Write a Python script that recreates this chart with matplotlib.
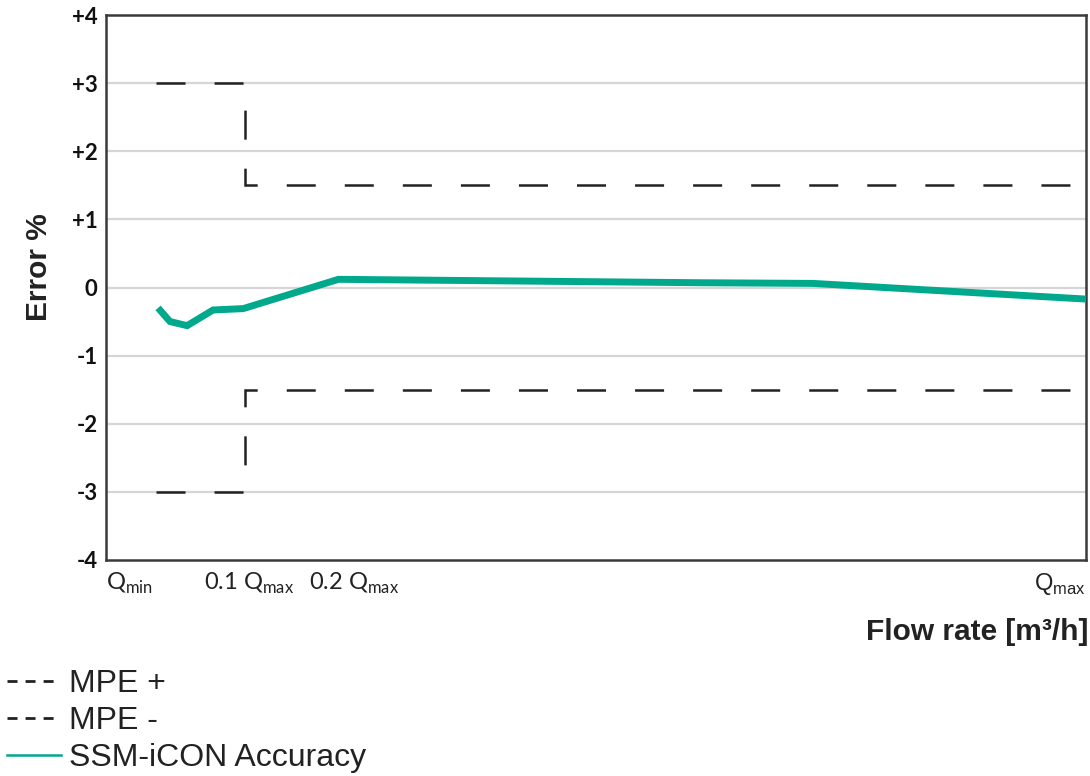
import matplotlib
matplotlib.use("Agg")
import matplotlib.pyplot as plt
from matplotlib.lines import Line2D
import matplotlib.transforms as mtransforms

plt.rcParams['lines.scale_dashes'] = False
plt.rcParams['mathtext.fontset'] = 'custom'
plt.rcParams['mathtext.rm'] = 'Lato'

# ---------------- data ----------------
# x expressed as fraction of Qmax
acc_x = [0.0069, 0.0197, 0.038, 0.0658, 0.098, 0.2, 0.587, 0.708, 1.0]
acc_y = [-0.30, -0.50, -0.56, -0.33, -0.31, 0.12, 0.07, 0.06, -0.17]

mpe_x = [0.0045, 0.1, 0.1, 1.0]
mpe_plus = [3.0, 3.0, 1.5, 1.5]
mpe_minus = [-3.0, -3.0, -1.5, -1.5]

x_tick_pos = [-0.0488, 0.1, 0.2, 1.0]
x_tick_labels = [r'Q$_{\mathregular{min}}$', r'0.1 Q$_{\mathregular{max}}$',
                 r'0.2 Q$_{\mathregular{max}}$', r'Q$_{\mathregular{max}}$']
y_ticks = [-4, -3, -2, -1, 0, 1, 2, 3, 4]
y_tick_labels = ['-4', '-3', '-2', '-1', '0', '+1', '+2', '+3', '+4']

green = '#00A88C'
dark = '#222222'

fig = plt.figure(figsize=(10.9, 7.76), dpi=100)
ax = fig.add_axes([106/1090, 1-560/776, 980/1090, 545/776])

ax.set_xlim(x_tick_pos[0], 1.0)
ax.set_ylim(-4, 4)

# grid
for yv in y_ticks[1:-1]:
    ax.axhline(yv, color='#d6d6d6', lw=1.6, zorder=1)

# MPE lines
dash = (20.9, 20.9)
ax.plot(mpe_x, mpe_plus, color=dark, lw=1.8, dashes=dash,
        dash_joinstyle='miter', dash_capstyle='butt', zorder=2, clip_on=False)
ax.plot(mpe_x, mpe_minus, color=dark, lw=1.8, dashes=dash,
        dash_joinstyle='miter', dash_capstyle='butt', zorder=2, clip_on=False)

# accuracy line
ax.plot(acc_x, acc_y, color=green, lw=5.0, solid_joinstyle='miter',
        solid_capstyle='butt', zorder=3, clip_on=False)

for s in ax.spines.values():
    s.set_color('#3a3a3a')
    s.set_linewidth(1.8)

ax.set_yticks(y_ticks)
ax.set_yticklabels(y_tick_labels, fontfamily='Lato', fontweight='bold', fontsize=16, color='#111111')
ax.tick_params(axis='y', length=0, pad=6)

ax.set_xticks(x_tick_pos)
ax.set_xticklabels(x_tick_labels, fontfamily='Lato', fontsize=17, color='#222222')
ax.tick_params(axis='x', length=0, pad=8)
xl = ax.get_xticklabels()
xl[0].set_ha('left')
xl[1].set_ha('center')
xl[2].set_ha('center')
xl[3].set_ha('right')
xl[3].set_fontfamily('Liberation Sans')
xl[2].set_transform(xl[2].get_transform() + mtransforms.ScaledTranslation(16/100, 0, fig.dpi_scale_trans))
xl[1].set_transform(xl[1].get_transform() + mtransforms.ScaledTranslation(4/100, 0, fig.dpi_scale_trans))

fig.text(39/1090, 1-267/776, 'Error %', rotation=90, ha='center', va='center',
         fontfamily='Liberation Sans', fontweight='bold', fontsize=21.5, color='#222222')
fig.text(1088/1090, 1-640/776, 'Flow rate [m³/h]', ha='right', va='baseline',
         fontfamily='Liberation Sans', fontweight='bold', fontsize=21.5, color='#222222')

handles = [
    Line2D([], [], color=dark, lw=2.0, dashes=(7.2, 5.8), dash_capstyle='butt'),
    Line2D([], [], color=dark, lw=2.0, dashes=(7.2, 5.8), dash_capstyle='butt'),
    Line2D([], [], color=green, lw=1.8),
]
labels = ['MPE +', 'MPE -', 'SSM-iCON Accuracy']
fig.legend(handles, labels, loc='upper left', bbox_to_anchor=(7/1090, 1-669/776),
           frameon=False, borderpad=0, borderaxespad=0, handlelength=1.70,
           handletextpad=0.25, labelspacing=0.22,
           prop={'family': 'Liberation Sans', 'size': 23}, labelcolor='#222222')

fig.savefig('out.png', dpi=100)
